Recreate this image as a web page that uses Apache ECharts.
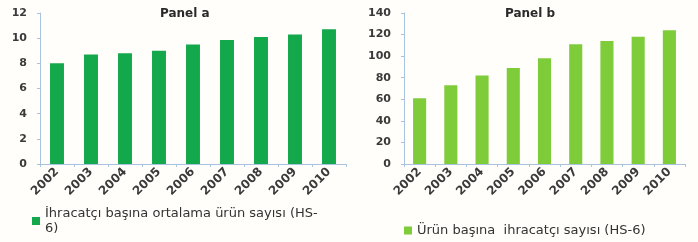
<!DOCTYPE html>
<html>
<head>
<meta charset="utf-8">
<script src="https://cdn.jsdelivr.net/npm/echarts@6/dist/echarts.min.js"></script>
<style>
  html, body { margin: 0; padding: 0; background: #fffefb; }
  #chart { width: 698px; height: 242px; }
</style>
</head>
<body>
<div id="chart"></div>
<script>
// years on both panels
const years = ["2002", "2003", "2004", "2005", "2006", "2007", "2008", "2009", "2010"];
// Panel a: İhracatçı başına ortalama ürün sayısı (HS-6)
const productsPerExporter = [8.0, 8.7, 8.8, 9.0, 9.5, 9.85, 10.1, 10.3, 10.7];
// Panel b: Ürün başına ihracatçı sayısı (HS-6)
const exportersPerProduct = [61, 73, 82, 89, 98, 111, 114, 118, 124];
const nameA = "İhracatçı başına ortalama ürün sayısı (HS-6)";
const nameB = "Ürün başına  ihracatçı sayısı (HS-6)";

const myChart = echarts.init(document.getElementById("chart"));

const font = "DejaVu Sans";
const axisColor = "#a9c3de";
const labelStyle = { color: "#3a3a3a", fontSize: 11, fontWeight: "bold", fontFamily: font };

function catAxis(gridIndex) {
  return {
    type: "category",
    gridIndex: gridIndex,
    data: years,
    axisLine: { lineStyle: { color: axisColor } },
    axisTick: { show: true, length: 3, lineStyle: { color: axisColor } },
    axisLabel: Object.assign({ rotate: 45, margin: 6, interval: 0 }, labelStyle, { fontSize: 12 }),
  };
}

function valAxis(gridIndex, max, interval) {
  return {
    type: "value",
    gridIndex: gridIndex,
    min: 0,
    max: max,
    interval: interval,
    splitLine: { show: false },
    axisLine: { show: true, lineStyle: { color: axisColor } },
    axisTick: { show: true, length: 3, lineStyle: { color: axisColor } },
    axisLabel: Object.assign({ margin: 13 }, labelStyle),
  };
}

const titleStyle = { fontSize: 12, fontWeight: "bold", color: "#2a2a2a", fontFamily: font };
const legendText = { color: "#333", fontSize: 13, fontFamily: font };

const option = {
  animation: false,
  backgroundColor: "#fffefb",
  title: [
    { text: "Panel a", left: 155, top: 3, textStyle: titleStyle },
    { text: "Panel b", left: 500, top: 3, textStyle: titleStyle },
  ],
  grid: [
    { left: 40, top: 13, width: 306, height: 151 },
    { left: 404, top: 13, width: 281, height: 151 },
  ],
  legend: [
    {
      data: [nameA],
      left: 27,
      top: 201,
      icon: "rect",
      itemWidth: 8,
      itemHeight: 8,
      itemGap: 4,
      formatter: () => "İhracatçı başına ortalama ürün sayısı (HS-\n6)",
      textStyle: Object.assign({ lineHeight: 15 }, legendText),
    },
    {
      data: [nameB],
      left: 399,
      top: 219,
      icon: "rect",
      itemWidth: 8,
      itemHeight: 8,
      itemGap: 4,
      textStyle: legendText,
    },
  ],
  xAxis: [catAxis(0), catAxis(1)],
  yAxis: [valAxis(0, 12, 2), valAxis(1, 140, 20)],
  series: [
    {
      name: nameA,
      type: "bar",
      xAxisIndex: 0,
      yAxisIndex: 0,
      barWidth: "41%",
      itemStyle: { color: "#13a84b" },
      data: productsPerExporter,
    },
    {
      name: nameB,
      type: "bar",
      xAxisIndex: 1,
      yAxisIndex: 1,
      barWidth: "42%",
      itemStyle: { color: "#7fcc3b" },
      data: exportersPerProduct,
    },
  ],
};

myChart.setOption(option);
</script>
</body>
</html>
